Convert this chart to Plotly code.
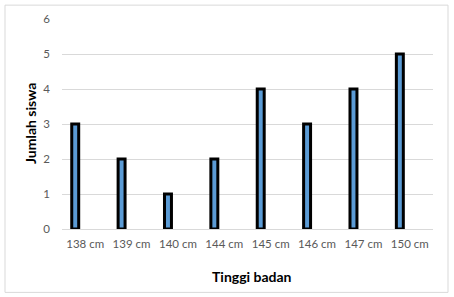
import plotly.graph_objects as go

categories = ["138 cm", "139 cm", "140 cm", "144 cm", "145 cm", "146 cm", "147 cm", "150 cm"]
values = [3, 2, 1, 2, 4, 3, 4, 5]
y_ticks = [0, 1, 2, 3, 4, 5, 6]

W, H = 454, 297
L, R, T, B = 62, 21, 17, 68
pw, ph = W - L - R, H - T - B

fig = go.Figure(go.Bar(
    x=categories, y=values,
    width=0.15, offset=-0.29,
    marker=dict(color="#5B9BD5", line=dict(color="#000000", width=3)),
))

font = "Lato, 'Liberation Sans', sans-serif"
fig.update_layout(
    width=W, height=H,
    margin=dict(l=L, r=R, t=T, b=B),
    paper_bgcolor="white", plot_bgcolor="white",
    showlegend=False,
    font=dict(family=font, size=11, color="#595959"),
    xaxis=dict(showgrid=False, showline=True, linecolor="#D9D9D9", linewidth=1,
               ticks="", ticklabelstandoff=4, tickfont=dict(size=11.5, color="#595959")),
    yaxis=dict(range=[0, 6], tickvals=y_ticks, showgrid=True, gridcolor="#D9D9D9",
               zeroline=False, showline=False, ticks="", ticklabelstandoff=11,
               tickfont=dict(size=11.5, color="#595959")),
    annotations=[
        dict(text="<b>Tinggi badan</b>", xref="paper", yref="paper",
             x=(252 - L) / pw, y=(229 - 277) / ph, showarrow=False,
             xanchor="center", yanchor="middle",
             font=dict(size=14, color="#000000", family=font)),
        dict(text="<b>Jumlah siswa</b>", xref="paper", yref="paper", textangle=-90,
             x=(30 - L) / pw, y=0.5, showarrow=False,
             xanchor="center", yanchor="middle",
             font=dict(size=14, color="#000000", family=font)),
    ],
    shapes=[dict(type="rect", xref="paper", yref="paper",
                 x0=(5 - L) / pw, x1=(448 - L) / pw,
                 y0=(229 - 293) / ph, y1=(229 - 3) / ph,
                 line=dict(color="#D9D9D9", width=1))],
)

fig.write_html("out.html")
